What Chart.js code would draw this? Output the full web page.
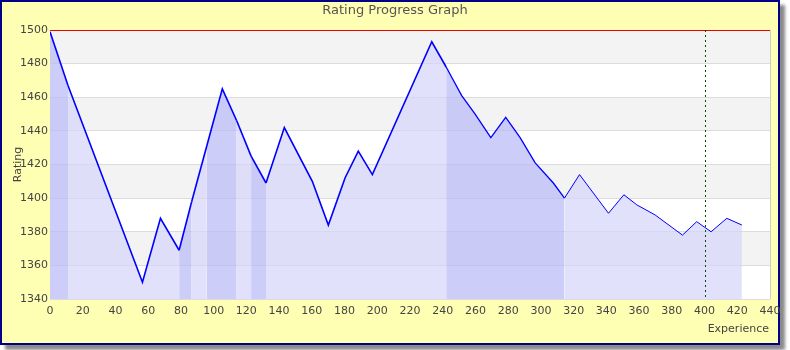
<!DOCTYPE html>
<html>
<head>
<meta charset="utf-8">
<script src="https://cdn.jsdelivr.net/npm/chart.js@4/dist/chart.umd.min.js"></script>
<style>
  body { margin: 0; background: #fff; }
  #frame {
    position: absolute; left: 0; top: 0;
    width: 776px; height: 341px;
    background: #ffffb4;
    border: 2px solid #000088;
    box-shadow: 5px 5px 3px #8a8a8a;
  }
  #wrap { position: absolute; left: 0; top: 0; width: 790px; height: 350px; }
</style>
</head>
<body>
<div id="frame"></div>
<div id="wrap"><canvas id="rating"></canvas></div>
<script>
// Rating progress values
const experience = [0, 11, 56.5, 67.5, 78.9, 86.6, 95.8, 105.3, 114.1, 122.9, 132, 143.2, 160.3, 170.1, 180.3, 188.4, 197,
  233.3, 242.1, 251.6, 259.8, 269.4, 278.5, 287.3, 296.5, 307.6, 314.4, 323.6, 341.3, 350.7, 358.6, 369.8, 386.5, 395.2,
  404, 413.6, 422.8];
const rating = [1499, 1467, 1350, 1388, 1369, 1398, 1431, 1465, 1446, 1425, 1409, 1442, 1410, 1384, 1412, 1428, 1414,
  1493, 1478, 1461, 1450, 1436, 1448, 1436, 1421, 1409, 1400, 1414, 1391, 1402, 1396, 1390, 1378, 1386,
  1380, 1388, 1384];
// experience spans drawn with the darker fill
const highlightSpans = [[0, 11], [78.9, 86.6], [95.8, 114.1], [122.9, 132], [242.1, 314.4]];
const markerAt = 400;
const yTicks = [1340, 1360, 1380, 1400, 1420, 1440, 1460, 1480, 1500];
const xTicks = Array.from({ length: 23 }, (_, i) => i * 20);

const FONT = 'DejaVu Sans';

function inSpan(ctx) {
  const a = ctx.p0.parsed.x, b = ctx.p1.parsed.x;
  return highlightSpans.some(([s, e]) => a >= s - 0.01 && b <= e + 0.01);
}

const decor = {
  id: 'decor',
  beforeDraw(chart) {
    const { ctx, chartArea: ca, scales: { y } } = chart;
    ctx.save();
    ctx.fillStyle = '#ffffff';
    ctx.fillRect(ca.left, ca.top, ca.right - ca.left, ca.bottom - ca.top);
    ctx.fillStyle = '#f3f3f3';
    for (let i = yTicks.length - 1; i > 0; i -= 2) {
      const t = y.getPixelForValue(yTicks[i]);
      const b = y.getPixelForValue(yTicks[i - 1]);
      ctx.fillRect(ca.left, t, ca.right - ca.left, b - t);
    }
    ctx.restore();
  },
  afterDatasetsDraw(chart) {
    const { ctx, chartArea: ca, scales: { x } } = chart;
    ctx.save();
    // right border of plot
    ctx.strokeStyle = '#cccccc';
    ctx.lineWidth = 1;
    ctx.beginPath();
    ctx.moveTo(ca.right + 0.5, ca.top);
    ctx.lineTo(ca.right + 0.5, ca.bottom);
    ctx.stroke();
    // dotted marker
    const px = Math.round(x.getPixelForValue(markerAt)) + 0.5;
    ctx.strokeStyle = '#0b4a0b';
    ctx.setLineDash([2, 3]);
    ctx.beginPath();
    ctx.moveTo(px, ca.top);
    ctx.lineTo(px, ca.bottom);
    ctx.stroke();
    ctx.setLineDash([]);
    // texts
    ctx.fillStyle = '#555';
    ctx.font = `13px "${FONT}"`;
    ctx.textAlign = 'center';
    ctx.textBaseline = 'middle';
    ctx.fillText('Rating Progress Graph', 395, 11);
    ctx.fillStyle = '#444';
    ctx.font = `11px "${FONT}"`;
    ctx.textAlign = 'right';
    ctx.fillText('Experience', 769, 329);
    ctx.translate(18, (ca.top + ca.bottom) / 2);
    ctx.rotate(-Math.PI / 2);
    ctx.textAlign = 'center';
    ctx.fillText('Rating', 0, 0);
    ctx.restore();
  }
};

const chart = new Chart(document.getElementById('rating'), {
  type: 'line',
  data: {
    datasets: [{
      data: experience.map((x, i) => ({ x, y: rating[i] })),
      borderColor: '#0000ff',
      borderWidth: 1.6,
      backgroundColor: 'rgba(212, 212, 250, 0.7)',
      fill: 'start',
      pointRadius: 0,
      tension: 0,
      segment: {
        backgroundColor: ctx => inSpan(ctx) ? 'rgba(186, 186, 248, 0.72)' : 'rgba(212, 212, 250, 0.7)',
        borderWidth: ctx => ctx.p0.parsed.x >= 314 ? 1 : (ctx.p0.parsed.x >= 242 ? 1.3 : 1.6)
      }
    }]
  },
  options: {
    responsive: true,
    maintainAspectRatio: false,
    animation: false,
    layout: { padding: { left: 0, right: 20, top: 30, bottom: 0 } },
    plugins: {
      legend: { display: false },
      title: { display: false },
      tooltip: { enabled: false }
    },
    scales: {
      x: {
        type: 'linear',
        min: 0,
        max: 440,
        afterBuildTicks: s => { s.ticks = xTicks.map(v => ({ value: v })); },
        afterFit: s => { s.height = 51; },
        grid: { display: false, drawTicks: false },
        border: { display: false },
        ticks: { padding: 6, color: '#444', font: { family: FONT, size: 11 }, maxRotation: 0, autoSkip: false, callback: v => String(v) }
      },
      y: {
        min: 1340,
        max: 1500,
        afterBuildTicks: s => { s.ticks = yTicks.map(v => ({ value: v })); },
        afterFit: s => { s.width = 50; },
        grid: {
          drawTicks: false,
          color: c => c.tick && c.tick.value === 1500 ? '#ee0000' : '#dcdcdc',
          lineWidth: 1
        },
        border: { display: false },
        ticks: { padding: 2, color: '#444', font: { family: FONT, size: 11 }, callback: v => String(v) }
      }
    }
  },
  plugins: [decor]
});
</script>
</body>
</html>
